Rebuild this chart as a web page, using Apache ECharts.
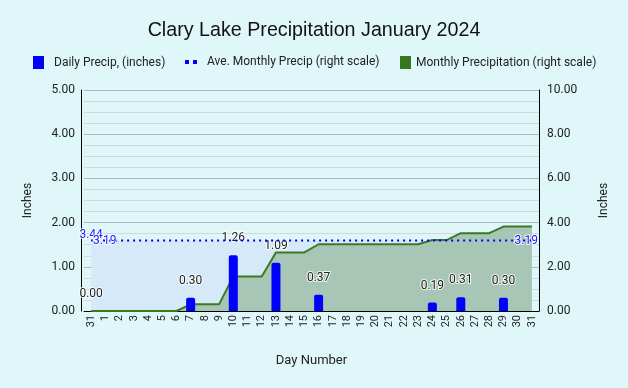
<!DOCTYPE html>
<html>
<head>
<meta charset="utf-8">
<script src="https://cdn.jsdelivr.net/npm/echarts@6/dist/echarts.min.js"></script>
<style>
html,body{margin:0;padding:0;background:#e0f7f9;}
#chart{width:628px;height:388px;}
</style>
</head>
<body>
<div id="chart"></div>
<script>
const categories = ['31','1','2','3','4','5','6','7','8','9','10','11','12','13','14','15','16','17','18','19','20','21','22','23','24','25','26','27','28','29','30','31'];
const dailyPrecip = [0.00,null,null,null,null,null,null,0.30,null,null,1.26,null,null,1.09,null,null,0.37,null,null,null,null,null,null,null,0.19,null,0.31,null,null,0.30,null,null];
const monthlyCumulative = [0,0,0,0,0,0,0,0.30,0.30,0.30,1.56,1.56,1.56,2.65,2.65,2.65,3.02,3.02,3.02,3.02,3.02,3.02,3.02,3.02,3.21,3.21,3.52,3.52,3.52,3.82,3.82,3.82];
const aveMonthly = 3.19;
const aveMonthlyFirstLabel = '3.44';
const leftTicks = [0,1,2,3,4,5];
const rightTicks = [0,2,4,6,8,10];

const aveSeries = categories.map(() => aveMonthly);
const font = 'Roboto';
const textDark = '#222222';
const legendText = (pad) => ({fontFamily: font, fontSize: 12, color: textDark, padding: [0,0,0,pad]});

const chart = echarts.init(document.getElementById('chart'), null, {renderer:'canvas'});
chart.setOption({
  backgroundColor: '#e0f7f9',
  animation: false,
  title: {
    text: 'Clary Lake Precipitation January 2024',
    left: 'center', top: 16,
    textStyle: {fontFamily: 'Liberation Sans', fontSize: 19.7, fontWeight: 'normal', color: '#111'}
  },
  legend: [
    {top: 56, left: 33, padding: 0, itemWidth: 11, itemHeight: 13, textStyle: legendText(5),
      data: [{name: 'Daily Precip, (inches)', icon: 'rect', itemStyle: {color: '#0000ff'}}]},
    {top: 56, left: 185, padding: 0, itemWidth: 12, itemHeight: 13, textStyle: legendText(5),
      data: [{name: 'Ave. Monthly Precip (right scale)', icon: 'path://M0,0h4v4h-4z M8,0h4v4h-4z', itemStyle: {color: '#0000ff'}}]},
    {top: 56, left: 400, padding: 0, itemWidth: 11, itemHeight: 13, textStyle: legendText(0),
      data: [{name: 'Monthly Precipitation (right scale)', icon: 'rect', itemStyle: {color: '#38761d'}}]}
  ],
  grid: {left: 84, right: 89, top: 90, bottom: 77, containLabel: false},
  xAxis: {
    type: 'category', data: categories, boundaryGap: true,
    name: 'Day Number', nameLocation: 'middle', nameGap: 43,
    nameTextStyle: {fontFamily: font, fontSize: 13, color: textDark},
    axisLine: {lineStyle: {color: '#000', width: 1}},
    axisTick: {show: false},
    axisLabel: {interval: 0, rotate: 90, fontFamily: font, fontSize: 11, color: textDark, margin: 4}
  },
  yAxis: [
    {
      type: 'value', min: leftTicks[0], max: leftTicks[leftTicks.length-1], interval: 1, offset: 3,
      name: 'Inches', nameLocation: 'middle', nameGap: 47,
      nameTextStyle: {fontFamily: font, fontSize: 12, color: textDark},
      axisLine: {show: true, lineStyle: {color: '#000'}},
      axisTick: {show: false},
      axisLabel: {fontFamily: font, fontSize: 12, color: textDark, margin: 6, formatter: v => v.toFixed(2)},
      splitLine: {show: true, lineStyle: {color: '#a9b9ba', width: 1}},
      minorTick: {show: false, splitNumber: 4},
      minorSplitLine: {show: true, lineStyle: {color: '#d2d6dd', width: 1}}
    },
    {
      type: 'value', min: rightTicks[0], max: rightTicks[rightTicks.length-1], interval: 2,
      name: 'Inches', nameLocation: 'middle', nameGap: 59,
      nameTextStyle: {fontFamily: font, fontSize: 12, color: textDark},
      axisLine: {show: true, lineStyle: {color: '#000'}},
      axisTick: {show: false},
      axisLabel: {fontFamily: font, fontSize: 12, color: textDark, margin: 8, formatter: v => v.toFixed(2)},
      splitLine: {show: false}
    }
  ],
  series: [
    {
      name: 'aveFill', type: 'line', yAxisIndex: 1, data: aveSeries,
      symbol: 'none', lineStyle: {width: 0}, areaStyle: {color: '#d5e9f8', opacity: 1},
      z: 1, silent: true
    },
    {
      name: 'Monthly Precipitation (right scale)', type: 'line', yAxisIndex: 1, data: monthlyCumulative,
      symbol: 'none', lineStyle: {color: '#3c7a22', width: 2},
      areaStyle: {color: '#a8c6b5', opacity: 1}, itemStyle: {color: '#38761d'},
      z: 2
    },
    {
      name: 'Daily Precip, (inches)', type: 'bar', yAxisIndex: 0, data: dailyPrecip,
      barWidth: 9, itemStyle: {color: '#0000ff', borderRadius: [2,2,0,0]},
      label: {show: true, position: 'top', distance: 11, fontFamily: font, fontSize: 12, color: textDark,
        textBorderColor: 'rgba(255,255,255,0.85)', textBorderWidth: 2, formatter: p => p.value.toFixed(2)},
      z: 3
    },
    {
      name: 'Ave. Monthly Precip (right scale)', type: 'line', yAxisIndex: 1,
      data: aveSeries.map((v, i) => {
        if (i === 0) return {value: v, label: {show: true, position: 'right', distance: 2}};
        if (i === aveSeries.length - 1) return {value: v, label: {show: true, position: 'left', distance: -6}};
        return v;
      }),
      symbol: 'circle', symbolSize: 0, showSymbol: true,
      lineStyle: {color: '#0000ff', width: 2, type: [2, 4]},
      itemStyle: {color: '#0000ff'},
      label: {show: false, fontFamily: font, fontSize: 12, color: '#2020ff',
        textBorderColor: 'rgba(255,255,255,0.85)', textBorderWidth: 2, formatter: p => p.value.toFixed(2)},
      z: 4
    },
    {
      name: 'aveFirstLabel', type: 'line', yAxisIndex: 1,
      data: aveSeries.map((v, i) => i === 0 ? v : null),
      symbol: 'circle', symbolSize: 0, showSymbol: true, lineStyle: {width: 0},
      label: {show: true, position: 'top', distance: 0, fontFamily: font, fontSize: 12, color: '#2020ff',
        textBorderColor: 'rgba(255,255,255,0.85)', textBorderWidth: 2, formatter: () => aveMonthlyFirstLabel},
      z: 3, silent: true
    }
  ]
});
</script>
</body>
</html>
